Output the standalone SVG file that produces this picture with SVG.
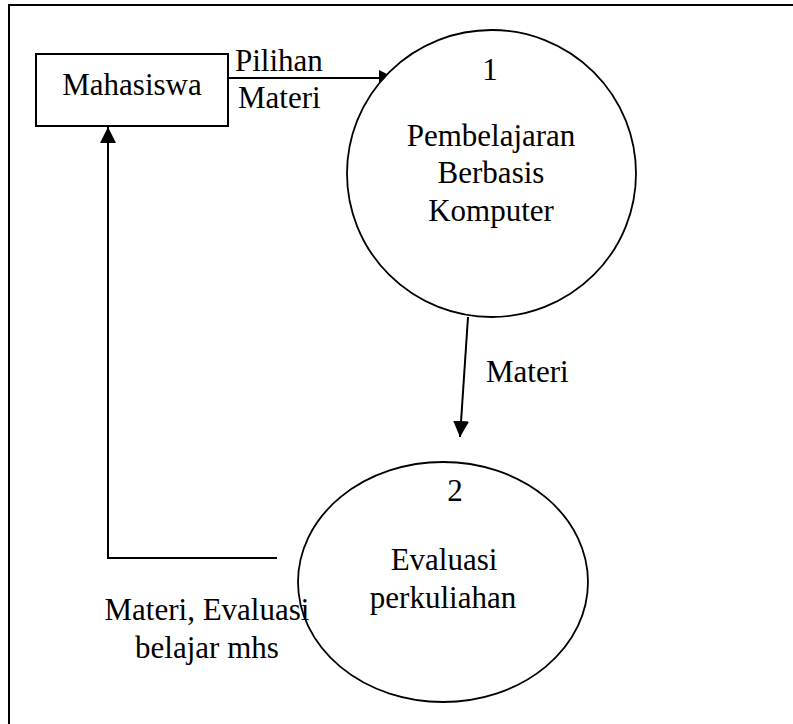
<svg xmlns="http://www.w3.org/2000/svg" width="793" height="724" viewBox="0 0 793 724">
<style>
.t{font-family:"Liberation Serif","Times New Roman",serif;font-size:31px;fill:#000}
.c{text-anchor:middle}
.s{fill:none;stroke:#000;stroke-width:2}
.e{fill:#fff;stroke:#000;stroke-width:1.8}
</style>
<defs>
<marker id="ah" markerUnits="userSpaceOnUse" markerWidth="16" markerHeight="16" refX="16" refY="8" orient="auto">
<path d="M0,0 L16,8 L0,16 z" fill="#000"/>
</marker>
</defs>
<rect width="793" height="724" fill="#fff"/>
<g id="frame">
<path class="s" d="M9,724 L9,5 L793,5" stroke-width="2.4"/>
</g>
<g id="connectors">
<path class="s" d="M228,78 L395,78" marker-end="url(#ah)"/>
<path class="s" d="M468,317 L460,437" marker-end="url(#ah)"/>
<path class="s" d="M277,558 L108,558 L108,127" marker-end="url(#ah)"/>
</g>
<g id="mahasiswa">
<rect class="s" x="36" y="54" width="192" height="72"/>
<text class="t c" x="132" y="95">Mahasiswa</text>
</g>
<g id="process1">
<ellipse class="e" cx="491.5" cy="173.5" rx="144.5" ry="143.5"/>
<text class="t c" x="490" y="80">1</text>
<text class="t c" x="491" y="146">Pembelajaran</text>
<text class="t c" x="491" y="183">Berbasis</text>
<text class="t c" x="491" y="221">Komputer</text>
</g>
<g id="process2">
<ellipse class="e" cx="443" cy="582" rx="145" ry="120" fill="none" style="fill:none"/>
<text class="t c" x="455" y="501">2</text>
<text class="t c" x="444" y="570">Evaluasi</text>
<text class="t c" x="443" y="608">perkuliahan</text>
</g>
<g id="labels">
<text class="t" x="235" y="71">Pilihan</text>
<text class="t" x="238" y="108">Materi</text>
<text class="t" x="486" y="382">Materi</text>
<text class="t c" x="207" y="620">Materi, Evaluasi</text>
<text class="t c" x="207" y="658">belajar mhs</text>
</g>
</svg>
